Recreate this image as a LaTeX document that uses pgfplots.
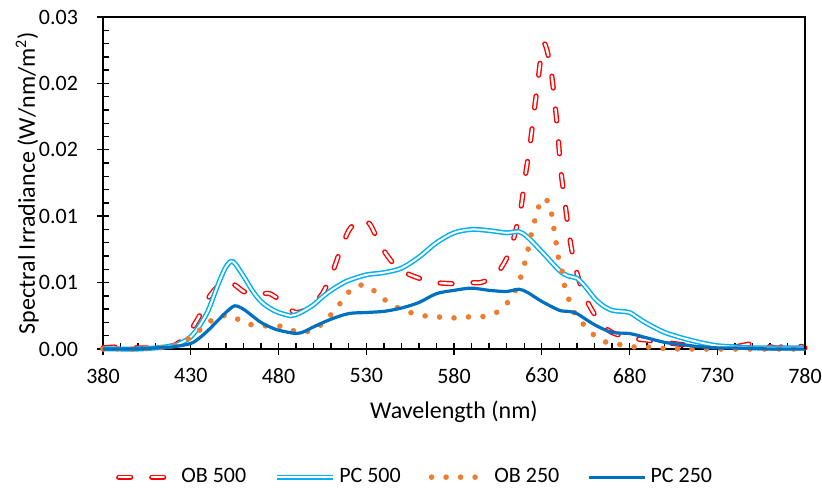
\documentclass[border=0pt]{standalone}
\usepackage{pgfplots}
\pgfplotsset{compat=1.18}
\usepackage{fontspec}
\setmainfont{Carlito}
\definecolor{obred}{HTML}{FF0000}
\definecolor{pclight}{HTML}{00B0F0}
\definecolor{oborange}{HTML}{ED7D31}
\definecolor{pcdark}{HTML}{0070C0}
\begin{document}
\begin{tikzpicture}
\begin{axis}[
  scale only axis,
  width=351pt, height=166pt,
  xmin=380, xmax=780, ymin=0, ymax=0.03,
  xtick={380,430,...,780},
  minor x tick num=4,
  ytick={0,0.006,0.012,0.018,0.024,0.03},
  yticklabels={0.00,0.01,0.01,0.02,0.02,0.03},
  scaled y ticks=false,
  minor y tick num=4,
  tick pos=left,
  tick align=inside,
  major tick length=3pt, minor tick length=3pt,
  extra x ticks={380,430,...,780}, extra x tick labels={},
  extra y ticks={0,0.006,0.012,0.018,0.024,0.03}, extra y tick labels={},
  extra tick style={tick align=outside, major tick length=3pt},
  every tick/.style={black, line width=0.7pt},
  axis line style={black, line width=0.8pt},
  /pgf/number format/assume math mode=true,
  tick label style={font=\fontsize{11}{13}\selectfont},
  xticklabel style={yshift=-6pt},
  yticklabel style={xshift=-9pt},
  xlabel={Wavelength (nm)},
  ylabel={Spectral Irradiance (W/nm/m\textsuperscript{2})},
  label style={font=\fontsize{12}{14}\selectfont},
  xlabel style={at={(axis description cs:0.5,-0.19)}, anchor=center},
  ylabel style={at={(axis description cs:-0.108,0.5)}, anchor=center, rotate=0},
  clip=false,
  legend columns=4,
  legend style={at={(axis description cs:0.446,-0.386)}, anchor=center, draw=none,
    font=\fontsize{11}{13}\selectfont,
    /tikz/every even column/.append style={column sep=12pt}},
  legend image code/.code={\draw[#1] (0pt,0pt) -- (28pt,0pt);},
]
\addplot[obred, line width=0.7pt, double=white, double distance=1.2pt, line cap=round,
  dash pattern=on 6pt off 10.5pt, smooth, tension=0.4] coordinates {
(380,0.0001)(390,0.0002)(400,0.0001)(410,0.0001)(420,0.0003)(425,0.0008)(430,0.0017)
(435,0.0030)(440,0.0046)(445,0.0056)(450,0.0061)(455,0.0058)(460,0.0052)(465,0.0050)
(470,0.0050)(475,0.0050)(480,0.0045)(485,0.0037)(490,0.0033)(495,0.0035)(500,0.0041)
(505,0.0050)(510,0.0066)(515,0.0088)(520,0.0107)(525,0.0116)(528,0.0117)(532,0.0113)
(535,0.0104)(540,0.0089)(545,0.0078)(550,0.0071)(555,0.0067)(560,0.0064)(570,0.0060)
(580,0.0059)(590,0.0060)(595,0.0060)(600,0.0063)(605,0.0069)(610,0.0082)(614,0.0100)
(618,0.0126)(620.5,0.0155)(623.3,0.0184)(625.6,0.0214)(627.9,0.0243)(630,0.0270)
(631.5,0.0276)(633,0.0270)(635.3,0.0252)(637.5,0.0222)(639.3,0.0193)(640.7,0.0164)
(643,0.0135)(645.5,0.0105)(648.5,0.0078)(654,0.0049)(663,0.0024)(670,0.0015)
(680,0.0010)(690,0.0008)(700,0.0006)(710,0.0004)(720,0.0003)(730,0.0002)(740,0.0002)
(750,0.0005)(755,0.0005)(760,0.0002)(765,0.0001)(770,0.0005)(775,0.0004)(780,0.0001)
};
\addlegendentry{OB 500}
\addplot[pclight, line width=0.75pt, double=white, double distance=1pt, smooth, tension=0.5] coordinates {
(380,0)(390,0)(400,0)(410,0.0001)(420,0.0003)(425,0.0006)(430,0.0011)(435,0.0021)
(440,0.0035)(445,0.0056)(450,0.0074)(454,0.0079)(460,0.0066)(465,0.0053)(470,0.0043)
(475,0.0037)(480,0.0033)(487,0.0030)(490,0.0031)(495,0.0035)(500,0.0040)(505,0.0047)
(510,0.0053)(515,0.0058)(520,0.0062)(530,0.0067)(540,0.0069)(550,0.0073)(560,0.0083)
(570,0.0096)(580,0.0105)(590,0.0108)(600,0.0107)(610,0.0105)(617,0.0106)(622,0.0101)
(630,0.0088)(640,0.0071)(645,0.0066)(650,0.0064)(655,0.0056)(660,0.0046)(665,0.0039)
(670,0.0035)(675,0.0034)(680,0.0033)(685,0.0028)(690,0.0023)(700,0.0015)(710,0.0010)
(720,0.0006)(730,0.0003)(740,0.0002)(750,0.0001)(760,0.0001)(780,0.0001)
};
\addlegendentry{PC 500}
\addplot[oborange, line width=2.8pt, line cap=round, dash pattern=on 0pt off 7.25pt, smooth, tension=0.5] coordinates {
(380,0)(390,0)(400,0)(410,0.0001)(418,0.0002)(424,0.0005)(432,0.0013)(438,0.0021)
(445,0.0029)(453,0.0030)(460,0.0024)(468,0.0021)(476,0.0021)(484,0.0020)(491,0.0015)
(499,0.0017)(505,0.0023)(511,0.0033)(516,0.0043)(521,0.0053)(528,0.0058)(535,0.0052)
(541,0.0044)(547,0.0038)(555,0.0033)(563,0.0030)(571,0.0029)(579,0.0028)(587,0.0029)
(595,0.0029)(603,0.0032)(609,0.0039)(614,0.0050)(617,0.0060)(619.3,0.0072)(621.5,0.0085)
(623.3,0.0098)(625,0.0111)(627.3,0.0122)(629,0.0133)(631.3,0.0136)(633.6,0.0133)
(635.8,0.0121)(637,0.0108)(638.1,0.0097)(639.3,0.0084)(641.5,0.0071)(642.7,0.0059)
(645,0.0047)(647.8,0.0035)(652.9,0.0024)(658,0.0015)(665,0.0007)(672,0.0005)
(680,0.0002)(688,0.0002)(696,0.0001)(710,0)(780,0)
};
\addlegendentry{OB 250}
\addplot[pcdark, line width=1.6pt, smooth, tension=0.5] coordinates {
(380,0)(390,0)(400,0)(410,0.0001)(420,0.0002)(430,0.0005)(435,0.0010)(440,0.0017)
(445,0.0025)(450,0.0033)(455,0.0039)(460,0.0036)(465,0.0030)(470,0.0024)(475,0.0020)
(480,0.0017)(490,0.0014)(495,0.0016)(500,0.0020)(510,0.0027)(520,0.0032)(530,0.0033)
(540,0.0034)(550,0.0037)(560,0.0042)(570,0.0050)(580,0.0053)(590,0.0055)(600,0.0053)
(610,0.0052)(617,0.0054)(622,0.0051)(630,0.0043)(640,0.0035)(645,0.0034)(650,0.0032)
(660,0.0022)(670,0.0015)(680,0.0014)(690,0.0010)(700,0.0006)(710,0.0004)(720,0.0002)
(730,0.0001)(740,0.0001)(760,0)(780,0)
};
\addlegendentry{PC 250}
\draw[black, line width=0.8pt] (rel axis cs:0,1) -- (rel axis cs:1,1) -- (rel axis cs:1,0);
\coordinate (bl) at (rel axis cs:0,0);
\coordinate (tr) at (rel axis cs:1,1);
\end{axis}
\pgfresetboundingbox
\path[use as bounding box] ([xshift=-51.5pt,yshift=-71pt]bl) rectangle ([xshift=8.5pt,yshift=8.5pt]tr);
\end{tikzpicture}
\end{document}
